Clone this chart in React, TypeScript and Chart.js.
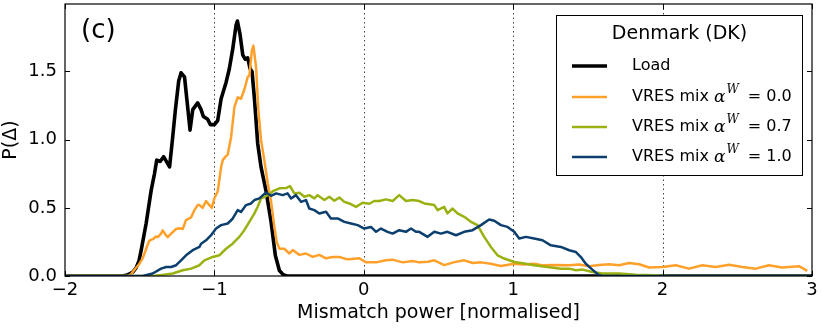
import { useEffect, useRef } from "react";
import { Chart, registerables } from "chart.js";

Chart.register(...registerables);

// ---------------- data ----------------
const X_TICKS = [-2, -1, 0, 1, 2, 3];
const Y_TICKS = [0, 0.5, 1.0, 1.5];
const X_GRID = [-1, 0, 1, 2];
const X_MIN = -2;
const X_MAX = 3;
const Y_MIN = 0;
const Y_MAX = 1.995;

const X_LABEL = "Mismatch power [normalised]";
const Y_LABEL = "P(\u0394)";
const PANEL_LABEL = "(c)";
const LEGEND_TITLE = "Denmark (DK)";
const LEGEND_LOAD = "Load";
const LEGEND_PREFIX = "VRES mix ";
const ALPHA_VALUES = ["0.0", "0.7", "1.0"];

const loadX = [-2, -1.62, -1.59, -1.569, -1.545, -1.524, -1.505, -1.49, -1.457, -1.423, -1.401, -1.386, -1.363, -1.34, -1.3, -1.279, -1.261, -1.239, -1.223, -1.2, -1.179, -1.163, -1.145, -1.112, -1.089, -1.074, -1.045, -1.027, -1.0, -0.978, -0.955, -0.922, -0.9, -0.878, -0.855, -0.846, -0.828, -0.81, -0.793, -0.777, -0.761, -0.748, -0.732, -0.71, -0.688, -0.654, -0.621, -0.592, -0.565, -0.54, -0.515, 3];
const loadY = [0, 0, 0.005, 0.015, 0.03, 0.06, 0.11, 0.19, 0.385, 0.63, 0.75, 0.85, 0.84, 0.875, 0.8, 1.02, 1.22, 1.43, 1.49, 1.46, 1.24, 1.07, 1.22, 1.27, 1.22, 1.17, 1.15, 1.11, 1.11, 1.14, 1.3, 1.42, 1.52, 1.66, 1.84, 1.87, 1.77, 1.62, 1.59, 1.6, 1.52, 1.5, 1.3, 0.97, 0.8, 0.62, 0.4, 0.15, 0.04, 0.01, 0, 0];

const vres00X = [-2, -1.585, -1.56, -1.547, -1.524, -1.502, -1.48, -1.468, -1.45, -1.435, -1.413, -1.39, -1.379, -1.357, -1.346, -1.325, -1.312, -1.29, -1.256, -1.235, -1.212, -1.19, -1.156, -1.134, -1.112, -1.1, -1.078, -1.056, -1.033, -1.018, -1.0, -0.978, -0.955, -0.944, -0.922, -0.911, -0.888, -0.866, -0.844, -0.822, -0.799, -0.777, -0.766, -0.75, -0.739, -0.721, -0.706, -0.688, -0.666, -0.643, -0.621, -0.6, -0.583, -0.565, -0.532, -0.498, -0.476, -0.431, -0.387, -0.342, -0.298, -0.253, -0.209, -0.164, -0.12, -0.097, -0.03, 0.015, 0.082, 0.148, 0.193, 0.26, 0.326, 0.371, 0.43, 0.472, 0.538, 0.6, 0.672, 0.73, 0.783, 0.85, 0.918, 1.007, 1.07, 1.14, 1.2, 1.274, 1.375, 1.44, 1.508, 1.575, 1.642, 1.709, 1.776, 1.843, 1.91, 1.999, 2.088, 2.177, 2.266, 2.356, 2.445, 2.534, 2.623, 2.712, 2.8, 2.913, 2.968];
const vres00Y = [0, 0, 0.01, 0.03, 0.06, 0.09, 0.13, 0.165, 0.22, 0.26, 0.27, 0.29, 0.285, 0.31, 0.335, 0.3, 0.285, 0.31, 0.345, 0.35, 0.345, 0.41, 0.43, 0.483, 0.52, 0.52, 0.5, 0.55, 0.52, 0.5, 0.57, 0.62, 0.8, 0.85, 0.88, 0.89, 1.02, 1.24, 1.31, 1.3, 1.37, 1.46, 1.47, 1.65, 1.69, 1.53, 1.22, 1.0, 0.85, 0.68, 0.55, 0.37, 0.25, 0.2, 0.2, 0.165, 0.19, 0.155, 0.165, 0.14, 0.155, 0.13, 0.14, 0.14, 0.125, 0.123, 0.13, 0.1, 0.1, 0.115, 0.12, 0.1, 0.11, 0.1, 0.105, 0.115, 0.08, 0.1, 0.115, 0.095, 0.1, 0.09, 0.074, 0.09, 0.085, 0.09, 0.078, 0.08, 0.079, 0.085, 0.072, 0.08, 0.086, 0.079, 0.096, 0.086, 0.062, 0.066, 0.079, 0.054, 0.079, 0.066, 0.083, 0.066, 0.054, 0.079, 0.062, 0.072, 0.037];

const vres07X = [-2, -1.415, -1.35, -1.279, -1.212, -1.156, -1.1, -1.067, -1.011, -0.967, -0.922, -0.878, -0.833, -0.8, -0.766, -0.732, -0.71, -0.688, -0.661, -0.632, -0.605, -0.565, -0.52, -0.494, -0.465, -0.431, -0.398, -0.365, -0.331, -0.309, -0.264, -0.231, -0.197, -0.164, -0.13, -0.097, -0.052, -0.008, 0.037, 0.07, 0.104, 0.148, 0.193, 0.237, 0.282, 0.326, 0.371, 0.405, 0.472, 0.494, 0.538, 0.56, 0.594, 0.627, 0.672, 0.717, 0.761, 0.806, 0.851, 0.895, 0.94, 1.007, 1.074, 1.14, 1.23, 1.319, 1.375, 1.42, 1.464, 1.53, 1.597, 1.709, 1.82, 1.955, 2.04, 3];
const vres07Y = [0, 0, 0.008, 0.018, 0.042, 0.054, 0.079, 0.115, 0.14, 0.152, 0.2, 0.237, 0.287, 0.336, 0.397, 0.459, 0.508, 0.569, 0.581, 0.6, 0.625, 0.643, 0.645, 0.66, 0.606, 0.61, 0.581, 0.593, 0.569, 0.593, 0.557, 0.581, 0.552, 0.576, 0.544, 0.532, 0.507, 0.537, 0.53, 0.55, 0.55, 0.562, 0.55, 0.593, 0.55, 0.557, 0.55, 0.532, 0.52, 0.483, 0.507, 0.459, 0.495, 0.459, 0.434, 0.397, 0.373, 0.287, 0.213, 0.152, 0.128, 0.103, 0.091, 0.079, 0.066, 0.054, 0.054, 0.042, 0.047, 0.03, 0.018, 0.018, 0.01, 0.005, 0, 0];

const vres10X = [-2, -1.48, -1.413, -1.357, -1.323, -1.29, -1.256, -1.223, -1.19, -1.145, -1.1, -1.089, -1.056, -1.022, -0.989, -0.955, -0.911, -0.878, -0.844, -0.822, -0.788, -0.755, -0.732, -0.699, -0.654, -0.621, -0.587, -0.543, -0.51, -0.487, -0.454, -0.42, -0.387, -0.365, -0.331, -0.298, -0.253, -0.22, -0.175, -0.13, -0.086, -0.041, 0.003, 0.048, 0.082, 0.115, 0.159, 0.193, 0.237, 0.282, 0.316, 0.349, 0.371, 0.427, 0.472, 0.516, 0.56, 0.617, 0.672, 0.728, 0.784, 0.839, 0.873, 0.918, 0.962, 1.007, 1.04, 1.085, 1.14, 1.196, 1.252, 1.319, 1.375, 1.42, 1.453, 1.486, 1.53, 1.575, 1.6, 3];
const vres10Y = [0, 0, 0.018, 0.054, 0.066, 0.066, 0.079, 0.115, 0.152, 0.189, 0.213, 0.237, 0.262, 0.299, 0.348, 0.373, 0.385, 0.42, 0.483, 0.47, 0.52, 0.532, 0.557, 0.569, 0.613, 0.588, 0.606, 0.593, 0.606, 0.569, 0.593, 0.544, 0.557, 0.495, 0.483, 0.459, 0.471, 0.422, 0.422, 0.397, 0.385, 0.373, 0.348, 0.36, 0.324, 0.348, 0.324, 0.311, 0.336, 0.324, 0.348, 0.324, 0.324, 0.287, 0.324, 0.311, 0.324, 0.299, 0.324, 0.336, 0.373, 0.414, 0.405, 0.373, 0.36, 0.324, 0.275, 0.287, 0.275, 0.262, 0.225, 0.213, 0.189, 0.176, 0.139, 0.09, 0.047, 0.005, 0, 0];

const COLORS = ["#000000", "#ffa02a", "#9ab111", "#0c3f6e"];
const WIDTHS = [3.6, 2.5, 2.5, 2.5];

const toPoints = (xs: number[], ys: number[]) => xs.map((x, i) => ({ x, y: ys[i] }));

const FONT = "'DejaVu Sans', 'Bitstream Vera Sans', sans-serif";
const MINUS = "\u2212";

const framePlugin = {
  id: "frame",
  beforeDatasetsDraw(chart: any) {
    const { ctx, chartArea: a, scales } = chart;
    const x = scales.x;
    ctx.save();
    ctx.strokeStyle = "#444";
    ctx.lineWidth = 1;
    ctx.setLineDash([1.5, 3]);
    for (const v of X_GRID) {
      const px = Math.round(x.getPixelForValue(v)) + 0.5;
      ctx.beginPath();
      ctx.moveTo(px, a.top);
      ctx.lineTo(px, a.bottom);
      ctx.stroke();
    }
    ctx.restore();
  },
  afterDatasetsDraw(chart: any) {
    const { ctx, chartArea: a, scales } = chart;
    const x = scales.x;
    const y = scales.y;
    ctx.save();
    ctx.strokeStyle = "#000";
    ctx.lineWidth = 1.2;
    ctx.strokeRect(a.left, a.top, a.right - a.left, a.bottom - a.top);
    const tl = 5;
    ctx.lineWidth = 1;
    ctx.beginPath();
    for (const v of X_TICKS) {
      const px = Math.round(x.getPixelForValue(v)) + 0.5;
      ctx.moveTo(px, a.bottom);
      ctx.lineTo(px, a.bottom - tl);
      ctx.moveTo(px, a.top);
      ctx.lineTo(px, a.top + tl);
    }
    for (const v of Y_TICKS) {
      const py = Math.round(y.getPixelForValue(v)) + 0.5;
      ctx.moveTo(a.left, py);
      ctx.lineTo(a.left + tl, py);
      ctx.moveTo(a.right, py);
      ctx.lineTo(a.right - tl, py);
    }
    ctx.stroke();
    ctx.restore();
  },
  afterDraw(chart: any) {
    const { ctx, chartArea: a } = chart;
    ctx.save();
    ctx.fillStyle = "#000";
    // axis titles
    ctx.font = `19px ${FONT}`;
    ctx.textAlign = "center";
    ctx.textBaseline = "middle";
    ctx.fillText(X_LABEL, (a.left + a.right) / 2, 313);
    ctx.save();
    ctx.translate(11, (a.top + a.bottom) / 2);
    ctx.rotate(-Math.PI / 2);
    ctx.fillText(Y_LABEL, 0, 0);
    ctx.restore();
    // panel label
    ctx.font = `26px ${FONT}`;
    ctx.textAlign = "left";
    ctx.fillText(PANEL_LABEL, 81, 31);

    // legend
    const bx = 556.5, by = 15.5, bw = 246, bh = 160;
    ctx.fillStyle = "#fff";
    ctx.fillRect(bx, by, bw, bh);
    ctx.strokeStyle = "#000";
    ctx.lineWidth = 1;
    ctx.strokeRect(bx, by, bw, bh);
    ctx.fillStyle = "#000";
    ctx.font = `19px ${FONT}`;
    ctx.textAlign = "center";
    ctx.fillText(LEGEND_TITLE, bx + bw / 2, 34);
    const rows = [66, 97, 127, 157];
    const lx1 = 572, lx2 = 607, tx0 = 632;
    rows.forEach((ry, i) => {
      ctx.strokeStyle = COLORS[i];
      ctx.lineWidth = i === 0 ? 3.4 : 2.5;
      ctx.beginPath();
      ctx.moveTo(lx1, ry);
      ctx.lineTo(lx2, ry);
      ctx.stroke();
      ctx.fillStyle = "#000";
      ctx.textAlign = "left";
      ctx.font = `16px ${FONT}`;
      if (i === 0) {
        ctx.fillText(LEGEND_LOAD, tx0, ry);
      } else {
        let tx = tx0;
        ctx.fillText(LEGEND_PREFIX, tx, ry);
        tx += ctx.measureText(LEGEND_PREFIX).width;
        ctx.font = `italic 17px 'DejaVu Serif', serif`;
        ctx.fillText("\u03b1", tx, ry + 1);
        tx += ctx.measureText("\u03b1").width + 1;
        ctx.font = `italic 12px 'DejaVu Serif', serif`;
        ctx.fillText("W", tx, ry - 7);
        tx += ctx.measureText("W").width;
        ctx.font = `16px ${FONT}`;
        ctx.fillText("= " + ALPHA_VALUES[i - 1], tx + 9, ry);
      }
    });
    ctx.restore();
  },
};

export default function App() {
  const ref = useRef<HTMLCanvasElement | null>(null);
  useEffect(() => {
    const canvas = ref.current;
    if (!canvas) return;
    const series = [
      toPoints(loadX, loadY),
      toPoints(vres00X, vres00Y),
      toPoints(vres07X, vres07Y),
      toPoints(vres10X, vres10Y),
    ];
    const chart = new Chart(canvas, {
      type: "line",
      data: {
        datasets: series.map((pts, i) => ({
          label: String(i),
          data: pts,
          borderColor: COLORS[i],
          backgroundColor: COLORS[i],
          borderWidth: WIDTHS[i],
          pointRadius: 0,
          tension: 0,
          fill: false,
          clip: 0,
          order: 3 - i,
          borderJoinStyle: "round",
        })),
      },
      options: {
        animation: false,
        responsive: false,
        devicePixelRatio: 1,
        layout: { padding: { top: 4, right: 10, left: 0, bottom: 0 } },
        plugins: {
          legend: { display: false },
          tooltip: { enabled: false },
          title: { display: false },
        },
        scales: {
          x: {
            type: "linear",
            min: X_MIN,
            max: X_MAX,
            grid: { display: false, drawTicks: false },
            border: { display: false },
            ticks: {
              color: "#000",
              font: { family: FONT, size: 18 },
              padding: 4,
              maxRotation: 0,
              autoSkip: false,
              callback: (v: any) => (v < 0 ? MINUS + Math.abs(v) : String(v)),
            },
            afterBuildTicks: (s: any) => {
              s.ticks = X_TICKS.map((v) => ({ value: v }));
            },
            afterFit: (s: any) => {
              s.height = 53;
              s.paddingLeft = 0;
              s.paddingRight = 0;
            },
          },
          y: {
            type: "linear",
            min: Y_MIN,
            max: Y_MAX,
            grid: { display: false, drawTicks: false },
            border: { display: false },
            ticks: {
              color: "#000",
              font: { family: FONT, size: 18 },
              padding: 8,
              autoSkip: false,
              callback: (v: any) => Number(v).toFixed(1),
            },
            afterBuildTicks: (s: any) => {
              s.ticks = Y_TICKS.map((v) => ({ value: v }));
            },
            afterFit: (s: any) => {
              s.width = 65;
              s.paddingTop = 0;
              s.paddingBottom = 0;
            },
          },
        },
      },
      plugins: [framePlugin],
    } as any);
    return () => chart.destroy();
  }, []);
  return (
    <div style={{ position: "absolute", left: 0, top: 0, width: 822, height: 329, background: "#fff" }}>
      <canvas ref={ref} width={822} height={329} style={{ display: "block" }} />
    </div>
  );
}
